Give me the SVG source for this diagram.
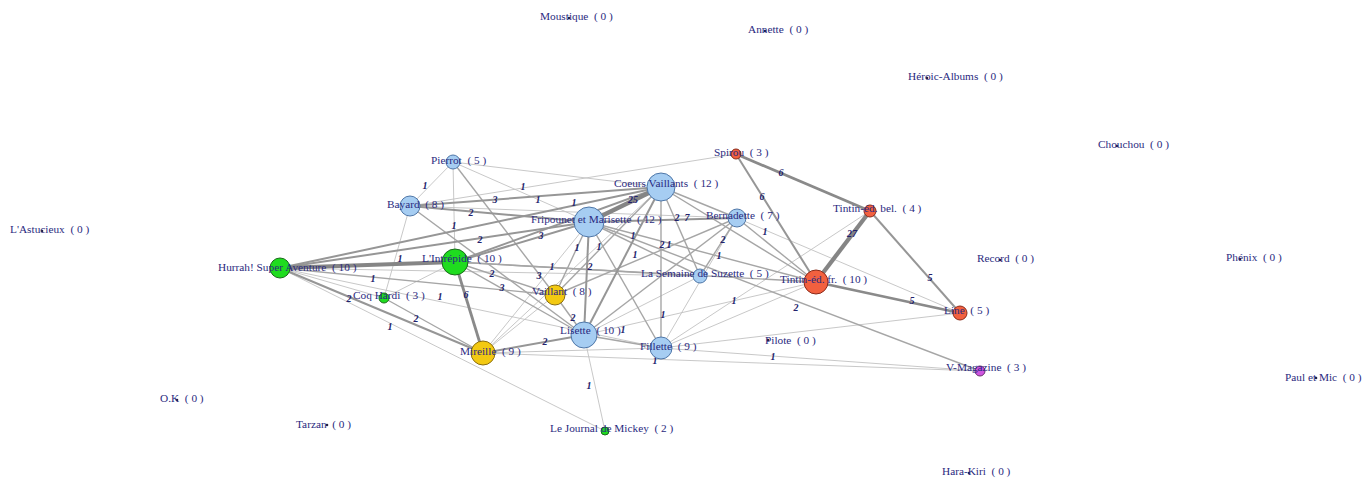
<svg xmlns="http://www.w3.org/2000/svg" width="1364" height="484" viewBox="0 0 1364 484">
<style>
.e1{stroke:#c2c2c2;stroke-width:0.9}
.e2{stroke:#a6a6a6;stroke-width:1.4}
.e3{stroke:#969696;stroke-width:2}
.e4{stroke:#8a8a8a;stroke-width:2.8}
.e5{stroke:#858585;stroke-width:4.2}
.lbl{font-family:"Liberation Serif",serif;font-size:11.3px;fill:#2a2a80;white-space:pre}
.el{font-family:"Liberation Serif",serif;font-size:10px;font-style:italic;font-weight:bold;fill:#22226c;text-anchor:middle}
.blue{fill:#a6cdf2;stroke:#4f77a8;stroke-width:1}
.green{fill:#1fdc1f;stroke:#1a6a1a;stroke-width:1}
.yellow{fill:#f3c912;stroke:#8a6d10;stroke-width:1}
.red{fill:#f2603f;stroke:#8a2a1a;stroke-width:1}
.purple{fill:#cf55e0;stroke:#6a2a70;stroke-width:1}
.dot{fill:#222244}
</style>
<rect width="1364" height="484" fill="#ffffff"/>
<g id="connectors">
<line class="e1" x1="736" y1="154" x2="410" y2="206"/>
<line class="e1" x1="870" y1="211" x2="661" y2="348"/>
<line class="e1" x1="737" y1="218" x2="960" y2="313"/>
<line class="e1" x1="661" y1="348" x2="960" y2="313"/>
<line class="e1" x1="584" y1="335" x2="816" y2="282"/>
<line class="e1" x1="661" y1="348" x2="816" y2="282"/>
<line class="e1" x1="483" y1="353" x2="980" y2="371"/>
<line class="e1" x1="661" y1="348" x2="980" y2="371"/>
<line class="e1" x1="661" y1="187" x2="453" y2="162"/>
<line class="e1" x1="661" y1="187" x2="483" y2="353"/>
<line class="e1" x1="589" y1="222" x2="453" y2="162"/>
<line class="e1" x1="589" y1="222" x2="483" y2="353"/>
<line class="e1" x1="453" y1="162" x2="410" y2="206"/>
<line class="e1" x1="453" y1="162" x2="455" y2="262"/>
<line class="e1" x1="410" y1="206" x2="384" y2="298"/>
<line class="e1" x1="410" y1="206" x2="737" y2="218"/>
<line class="e1" x1="455" y1="262" x2="384" y2="298"/>
<line class="e1" x1="384" y1="298" x2="280" y2="268"/>
<line class="e1" x1="555" y1="295" x2="483" y2="353"/>
<line class="e1" x1="280" y1="268" x2="605" y2="431"/>
<line class="e1" x1="280" y1="268" x2="661" y2="348"/>
<line class="e1" x1="584" y1="335" x2="605" y2="431"/>
<line class="e1" x1="661" y1="348" x2="737" y2="218"/>
<line class="e1" x1="483" y1="353" x2="661" y2="348"/>
<line class="e1" x1="584" y1="335" x2="700" y2="276"/>
<line class="e1" x1="280" y1="268" x2="700" y2="276"/>
<line class="e2" x1="737" y1="218" x2="816" y2="282"/>
<line class="e2" x1="661" y1="187" x2="816" y2="282"/>
<line class="e2" x1="589" y1="222" x2="980" y2="371"/>
<line class="e2" x1="661" y1="187" x2="737" y2="218"/>
<line class="e2" x1="661" y1="187" x2="700" y2="276"/>
<line class="e2" x1="661" y1="187" x2="661" y2="348"/>
<line class="e2" x1="661" y1="187" x2="555" y2="295"/>
<line class="e2" x1="589" y1="222" x2="555" y2="295"/>
<line class="e2" x1="589" y1="222" x2="700" y2="276"/>
<line class="e2" x1="589" y1="222" x2="661" y2="348"/>
<line class="e2" x1="589" y1="222" x2="816" y2="282"/>
<line class="e2" x1="453" y1="162" x2="555" y2="295"/>
<line class="e2" x1="410" y1="206" x2="584" y2="335"/>
<line class="e2" x1="455" y1="262" x2="555" y2="295"/>
<line class="e2" x1="455" y1="262" x2="584" y2="335"/>
<line class="e2" x1="455" y1="262" x2="700" y2="276"/>
<line class="e2" x1="455" y1="262" x2="816" y2="282"/>
<line class="e2" x1="384" y1="298" x2="483" y2="353"/>
<line class="e2" x1="555" y1="295" x2="584" y2="335"/>
<line class="e2" x1="555" y1="295" x2="737" y2="218"/>
<line class="e2" x1="280" y1="268" x2="555" y2="295"/>
<line class="e2" x1="584" y1="335" x2="661" y2="348"/>
<line class="e2" x1="584" y1="335" x2="737" y2="218"/>
<line class="e2" x1="700" y1="276" x2="737" y2="218"/>
<line class="e3" x1="736" y1="154" x2="816" y2="282"/>
<line class="e3" x1="870" y1="211" x2="960" y2="313"/>
<line class="e3" x1="661" y1="187" x2="410" y2="206"/>
<line class="e3" x1="661" y1="187" x2="455" y2="262"/>
<line class="e3" x1="661" y1="187" x2="280" y2="268"/>
<line class="e3" x1="661" y1="187" x2="584" y2="335"/>
<line class="e3" x1="589" y1="222" x2="410" y2="206"/>
<line class="e3" x1="589" y1="222" x2="455" y2="262"/>
<line class="e3" x1="589" y1="222" x2="280" y2="268"/>
<line class="e3" x1="589" y1="222" x2="584" y2="335"/>
<line class="e3" x1="589" y1="222" x2="737" y2="218"/>
<line class="e3" x1="280" y1="268" x2="483" y2="353"/>
<line class="e3" x1="584" y1="335" x2="483" y2="353"/>
<line class="e4" x1="736" y1="154" x2="870" y2="211"/>
<line class="e4" x1="816" y1="282" x2="960" y2="313"/>
<line class="e4" x1="455" y1="262" x2="483" y2="353"/>
<line class="e5" x1="870" y1="211" x2="816" y2="282"/>
<line class="e5" x1="661" y1="187" x2="589" y2="222"/>
<line class="e5" x1="455" y1="262" x2="280" y2="268"/>
<text class="el" x="781" y="176">6</text>
<text class="el" x="762" y="200">6</text>
<text class="el" x="852" y="237">27</text>
<text class="el" x="930" y="281">5</text>
<text class="el" x="912" y="304">5</text>
<text class="el" x="765" y="235">1</text>
<text class="el" x="663" y="318">1</text>
<text class="el" x="734" y="304">1</text>
<text class="el" x="773" y="360">1</text>
<text class="el" x="655" y="364">1</text>
<text class="el" x="796" y="311">2</text>
<text class="el" x="633" y="203">25</text>
<text class="el" x="495" y="203">3</text>
<text class="el" x="523" y="190">1</text>
<text class="el" x="538" y="203">1</text>
<text class="el" x="574" y="206">1</text>
<text class="el" x="480" y="243">2</text>
<text class="el" x="677" y="221">2</text>
<text class="el" x="687" y="221">7</text>
<text class="el" x="633" y="239">1</text>
<text class="el" x="662" y="248">2</text>
<text class="el" x="669" y="248">1</text>
<text class="el" x="471" y="216">2</text>
<text class="el" x="541" y="239">3</text>
<text class="el" x="590" y="270">2</text>
<text class="el" x="577" y="251">1</text>
<text class="el" x="599" y="250">1</text>
<text class="el" x="552" y="270">1</text>
<text class="el" x="635" y="258">1</text>
<text class="el" x="425" y="189">1</text>
<text class="el" x="454" y="229">1</text>
<text class="el" x="539" y="279">3</text>
<text class="el" x="400" y="262">1</text>
<text class="el" x="466" y="298">6</text>
<text class="el" x="492" y="277">2</text>
<text class="el" x="502" y="291">3</text>
<text class="el" x="440" y="300">1</text>
<text class="el" x="416" y="322">2</text>
<text class="el" x="573" y="321">2</text>
<text class="el" x="373" y="282">1</text>
<text class="el" x="349" y="302">2</text>
<text class="el" x="390" y="330">1</text>
<text class="el" x="623" y="333">1</text>
<text class="el" x="589" y="389">1</text>
<text class="el" x="545" y="345">2</text>
<text class="el" x="723" y="243">2</text>
<text class="el" x="719" y="259">1</text>
</g>
<g id="node-pierrot"><circle class="blue" cx="453" cy="162" r="7"/><text class="lbl" x="431" y="164">Pierrot  ( 5 )</text></g>
<g id="node-bayard"><circle class="blue" cx="410" cy="206" r="10"/><text class="lbl" x="387" y="208">Bayard  ( 8 )</text></g>
<g id="node-coeurs-vaillants"><circle class="blue" cx="661" cy="187" r="14"/><text class="lbl" x="614" y="187">Coeurs Vaillants  ( 12 )</text></g>
<g id="node-fripounet"><circle class="blue" cx="589" cy="222" r="15"/><text class="lbl" x="531" y="223">Fripounet et Marisette  ( 12 )</text></g>
<g id="node-bernadette"><circle class="blue" cx="737" cy="218" r="9"/><text class="lbl" x="706" y="219">Bernadette  ( 7 )</text></g>
<g id="node-spirou"><circle class="red" cx="736" cy="154" r="5"/><text class="lbl" x="714" y="156">Spirou  ( 3 )</text></g>
<g id="node-tintin-bel"><circle class="red" cx="870" cy="211" r="6"/><text class="lbl" x="833" y="212">Tintin-éd. bel.  ( 4 )</text></g>
<g id="node-tintin-fr"><circle class="red" cx="816" cy="282" r="12"/><text class="lbl" x="780" y="283">Tintin-éd. fr.  ( 10 )</text></g>
<g id="node-line"><circle class="red" cx="960" cy="313" r="7"/><text class="lbl" x="944" y="314">Line  ( 5 )</text></g>
<g id="node-intrepide"><circle class="green" cx="455" cy="262" r="13"/><text class="lbl" x="422" y="262">L'Intrépide  ( 10 )</text></g>
<g id="node-hurrah"><circle class="green" cx="280" cy="268" r="10"/><text class="lbl" x="218" y="271">Hurrah! Super Aventure  ( 10 )</text></g>
<g id="node-coq-hardi"><circle class="green" cx="384" cy="298" r="5"/><text class="lbl" x="353" y="299">Coq Hardi  ( 3 )</text></g>
<g id="node-vaillant"><circle class="yellow" cx="555" cy="295" r="10"/><text class="lbl" x="532" y="295">Vaillant  ( 8 )</text></g>
<g id="node-semaine-suzette"><circle class="blue" cx="700" cy="276" r="7"/><text class="lbl" x="641" y="277">La Semaine de Suzette  ( 5 )</text></g>
<g id="node-lisette"><circle class="blue" cx="584" cy="335" r="13"/><text class="lbl" x="560" y="334">Lisette  ( 10 )</text></g>
<g id="node-fillette"><circle class="blue" cx="661" cy="348" r="11"/><text class="lbl" x="640" y="350">Fillette  ( 9 )</text></g>
<g id="node-mireille"><circle class="yellow" cx="483" cy="353" r="12"/><text class="lbl" x="460" y="355">Mireille  ( 9 )</text></g>
<g id="node-journal-mickey"><circle class="green" cx="605" cy="431" r="4"/><text class="lbl" x="550" y="432">Le Journal de Mickey  ( 2 )</text></g>
<g id="node-v-magazine"><circle class="purple" cx="980" cy="371" r="5"/><text class="lbl" x="946" y="371">V-Magazine  ( 3 )</text></g>
<g id="node-pilote"><circle class="dot" cx="768" cy="340" r="1.3"/><text class="lbl" x="765" y="344">Pilote  ( 0 )</text></g>
<g id="node-moustique"><circle class="dot" cx="569" cy="18" r="1.3"/><text class="lbl" x="540" y="20">Moustique  ( 0 )</text></g>
<g id="node-annette"><circle class="dot" cx="765" cy="31" r="1.3"/><text class="lbl" x="748" y="33">Annette  ( 0 )</text></g>
<g id="node-heroic-albums"><circle class="dot" cx="927" cy="78" r="1.3"/><text class="lbl" x="908" y="80">Héroic-Albums  ( 0 )</text></g>
<g id="node-chouchou"><circle class="dot" cx="1117" cy="146" r="1.3"/><text class="lbl" x="1098" y="148">Chouchou  ( 0 )</text></g>
<g id="node-astucieux"><circle class="dot" cx="42" cy="231" r="1.3"/><text class="lbl" x="10" y="233">L'Astucieux  ( 0 )</text></g>
<g id="node-record"><circle class="dot" cx="1000" cy="260" r="1.3"/><text class="lbl" x="977" y="262">Record  ( 0 )</text></g>
<g id="node-phenix"><circle class="dot" cx="1240" cy="259" r="1.3"/><text class="lbl" x="1226" y="261">Phénix  ( 0 )</text></g>
<g id="node-paul-et-mic"><circle class="dot" cx="1316" cy="378" r="1.3"/><text class="lbl" x="1285" y="381">Paul et Mic  ( 0 )</text></g>
<g id="node-ok"><circle class="dot" cx="177" cy="400" r="1.3"/><text class="lbl" x="160" y="402">O.K  ( 0 )</text></g>
<g id="node-tarzan"><circle class="dot" cx="327" cy="425" r="1.3"/><text class="lbl" x="296" y="428">Tarzan  ( 0 )</text></g>
<g id="node-hara-kiri"><circle class="dot" cx="969" cy="473" r="1.3"/><text class="lbl" x="942" y="475">Hara-Kiri  ( 0 )</text></g>
</svg>
